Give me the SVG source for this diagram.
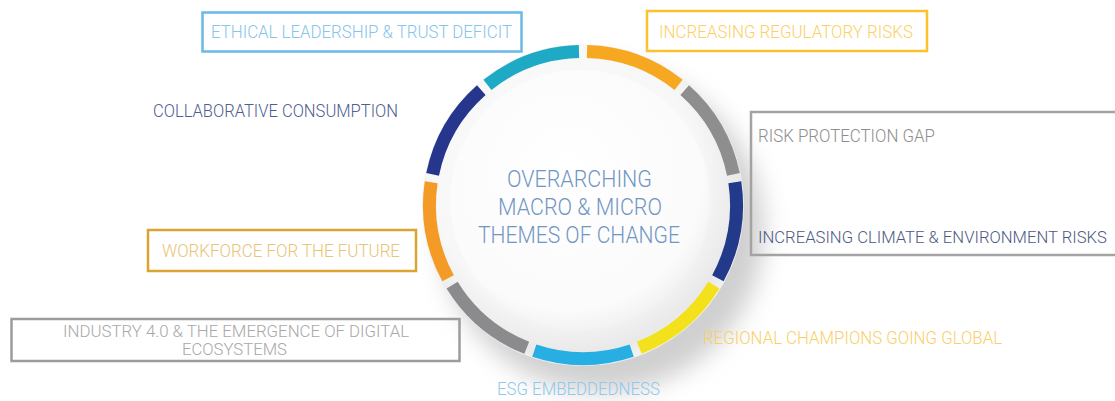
<svg xmlns="http://www.w3.org/2000/svg" width="1115" height="401" viewBox="0 0 1115 401">
<style>
.t{font-family:Roboto,"Liberation Sans",sans-serif;font-weight:300;font-size:18px}
.s{font-size:16.5px}
.c{font-family:Roboto,"Liberation Sans",sans-serif;font-weight:300;font-size:24px;fill:#7196c4}
.box{fill:none;stroke-width:2.5}
.seg{fill:none;stroke-width:13;stroke-dasharray:99.1 865.4}
</style>
<defs>
<filter id="blur" x="-30%" y="-30%" width="160%" height="160%"><feGaussianBlur stdDeviation="12"/></filter>
<radialGradient id="plate" cx="0.45" cy="0.42" r="0.6">
<stop offset="0" stop-color="#ffffff"/>
<stop offset="0.7" stop-color="#f7f7f7"/>
<stop offset="0.9" stop-color="#e9e9e9"/>
<stop offset="1" stop-color="#f4f4f4"/>
</radialGradient>
<radialGradient id="disc" cx="0.45" cy="0.4" r="0.65">
<stop offset="0" stop-color="#ffffff"/>
<stop offset="0.8" stop-color="#fbfbfb"/>
<stop offset="1" stop-color="#eeeeee"/>
</radialGradient>
</defs>
<rect width="1115" height="401" fill="#ffffff"/>

<g id="hub">
<circle cx="602" cy="230" r="162" fill="#b0b0b0" opacity="0.6" filter="url(#blur)"/>
<circle cx="583" cy="205" r="161" fill="url(#plate)"/>
<circle cx="580" cy="200" r="130" fill="url(#disc)"/>
<g id="ring">
<circle class="seg" cx="583" cy="205" r="153.5" stroke="#f6a821" transform="rotate(-88.5 583 205)"/>
<circle class="seg" cx="583" cy="205" r="153.5" stroke="#8e8e8e" transform="rotate(-48.5 583 205)"/>
<circle class="seg" cx="583" cy="205" r="153.5" stroke="#233a8b" transform="rotate(-8.5 583 205)"/>
<circle class="seg" cx="583" cy="205" r="153.5" stroke="#f3e11c" transform="rotate(31.5 583 205)"/>
<circle class="seg" cx="583" cy="205" r="153.5" stroke="#27aee3" transform="rotate(71.5 583 205)"/>
<circle class="seg" cx="583" cy="205" r="153.5" stroke="#8b8b8d" transform="rotate(111.5 583 205)"/>
<circle class="seg" cx="583" cy="205" r="153.5" stroke="#f39b26" transform="rotate(151.5 583 205)"/>
<circle class="seg" cx="583" cy="205" r="153.5" stroke="#26368c" transform="rotate(191.5 583 205)"/>
<circle class="seg" cx="583" cy="205" r="153.5" stroke="#1eaac4" transform="rotate(231.5 583 205)"/>
</g>
<text class="c" x="507" y="187" textLength="145" lengthAdjust="spacingAndGlyphs">OVERARCHING</text>
<text class="c" x="498" y="215" textLength="164" lengthAdjust="spacingAndGlyphs">MACRO &amp; MICRO</text>
<text class="c" x="478" y="243" textLength="202" lengthAdjust="spacingAndGlyphs">THEMES OF CHANGE</text>
</g>

<g id="connectors"></g>

<g id="ethical">
<rect class="box" x="202.5" y="12.5" width="319" height="39" stroke="#6ab9e6"/>
<text class="t" x="211" y="38" fill="#86c5ec" textLength="301" lengthAdjust="spacingAndGlyphs">ETHICAL LEADERSHIP &amp; TRUST DEFICIT</text>
</g>
<g id="regulatory">
<rect class="box" x="647" y="11" width="280" height="40" stroke="#fbc22e"/>
<text class="t" x="659" y="38" fill="#fcd066" textLength="254" lengthAdjust="spacingAndGlyphs">INCREASING REGULATORY RISKS</text>
</g>
<g id="risk-gap">
<path class="box" d="M1116 112 H751 V255 H1116" stroke="#a3a3a3"/>
<text class="t" x="758" y="142" fill="#8e8e8e" textLength="177" lengthAdjust="spacingAndGlyphs">RISK PROTECTION GAP</text>
</g>
<g id="climate">
<text class="t s" x="758" y="243" fill="#4b5b82" textLength="349" lengthAdjust="spacingAndGlyphs">INCREASING CLIMATE &amp; ENVIRONMENT RISKS</text>
</g>
<g id="collaborative">
<text class="t" x="153" y="117" fill="#4d6090" textLength="245" lengthAdjust="spacingAndGlyphs">COLLABORATIVE CONSUMPTION</text>
</g>
<g id="workforce">
<rect class="box" x="148" y="230" width="268" height="41" stroke="#d9a431"/>
<text class="t" x="162" y="257" fill="#e8c476" textLength="238" lengthAdjust="spacingAndGlyphs">WORKFORCE FOR THE FUTURE</text>
</g>
<g id="industry">
<rect class="box" x="11.5" y="319" width="448" height="42" stroke="#9c9c9c"/>
<text class="t s" x="63" y="337" fill="#a8a8a8" textLength="346" lengthAdjust="spacingAndGlyphs">INDUSTRY 4.0  &amp; THE EMERGENCE OF DIGITAL</text>
<text class="t s" x="182" y="355" fill="#a8a8a8" textLength="105" lengthAdjust="spacingAndGlyphs">ECOSYSTEMS</text>
</g>
<g id="regional">
<text class="t" x="703" y="344" fill="#f9cf6a" textLength="299" lengthAdjust="spacingAndGlyphs">REGIONAL CHAMPIONS GOING GLOBAL</text>
</g>
<g id="esg">
<text class="t" x="497" y="395" fill="#8fc8ec" textLength="163" lengthAdjust="spacingAndGlyphs">ESG EMBEDDEDNESS</text>
</g>
</svg>
